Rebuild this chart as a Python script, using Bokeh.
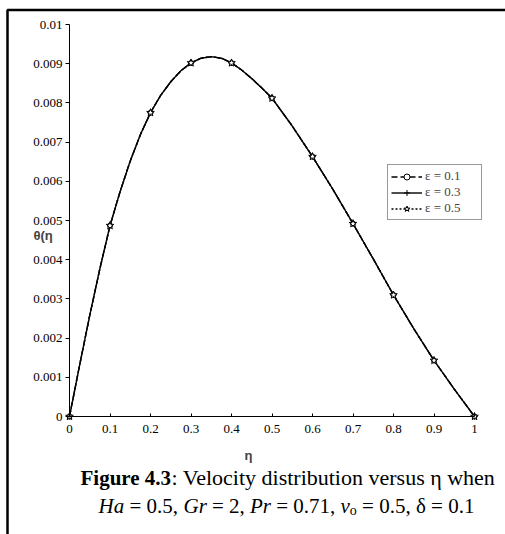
from bokeh.plotting import figure
from bokeh.models import (FixedTicker, Label, Legend, LegendItem, BoxAnnotation, Range1d,
                          LinearAxis)
from bokeh.embed import file_html
from bokeh.resources import INLINE

# ---------------- data ----------------
eta = [0.000, 0.025, 0.050, 0.075, 0.100, 0.125, 0.150, 0.175, 0.200, 0.225, 0.250,
       0.275, 0.300, 0.325, 0.350, 0.375, 0.400, 0.425, 0.450, 0.475, 0.500,
       0.550, 0.600, 0.650, 0.700, 0.750, 0.800, 0.850, 0.900, 0.950, 1.000]
theta_eps_01 = [0.0, 0.00131, 0.00258, 0.00377, 0.00487, 0.00574, 0.00652, 0.00719,
                0.00775, 0.00819, 0.00854, 0.00882, 0.00902, 0.00914, 0.00918, 0.00914,
                0.00902, 0.00884, 0.00862, 0.00838, 0.00812, 0.00741, 0.00663, 0.00580,
                0.00492, 0.00402, 0.00310, 0.00224, 0.00143, 0.00070, 0.0]
theta_eps_03 = [0.0, 0.00131, 0.00258, 0.00377, 0.00487, 0.00574, 0.00652, 0.00719,
                0.00775, 0.00819, 0.00854, 0.00882, 0.00902, 0.00914, 0.00918, 0.00914,
                0.00902, 0.00884, 0.00862, 0.00838, 0.00812, 0.00741, 0.00663, 0.00580,
                0.00492, 0.00402, 0.00310, 0.00224, 0.00143, 0.00070, 0.0]
theta_eps_05 = [0.0, 0.00131, 0.00258, 0.00377, 0.00487, 0.00574, 0.00652, 0.00719,
                0.00775, 0.00819, 0.00854, 0.00882, 0.00902, 0.00914, 0.00918, 0.00914,
                0.00902, 0.00884, 0.00862, 0.00838, 0.00812, 0.00741, 0.00663, 0.00580,
                0.00492, 0.00402, 0.00310, 0.00224, 0.00143, 0.00070, 0.0]
series_labels = ["ε = 0.1", "ε = 0.3", "ε = 0.5"]

x_tick_values = [0, 0.1, 0.2, 0.3, 0.4, 0.5, 0.6, 0.7, 0.8, 0.9, 1]
x_tick_labels = ["0", "0.1", "0.2", "0.3", "0.4", "0.5", "0.6", "0.7", "0.8", "0.9", "1"]
y_tick_values = [0, 0.001, 0.002, 0.003, 0.004, 0.005, 0.006, 0.007, 0.008, 0.009, 0.01]
y_tick_labels = ["0", "0.001", "0.002", "0.003", "0.004", "0.005", "0.006", "0.007",
                 "0.008", "0.009", "0.01"]
x_lo, x_hi = 0, 1
y_lo, y_hi = 0, 0.01

# ---------------- layout constants (canvas pixels) ----------------
W, H = 505, 534
FL, FT, FR, FB = 69, 24, 474, 416   # where the data box sits on the canvas
SERIF = "Liberation Serif"
SANS = "Liberation Sans"

xpp = (x_hi - x_lo) / (FR - FL)     # data units per pixel
ypp = (y_hi - y_lo) / (FB - FT)


def dx(X):
    return x_lo + (X - FL) * xpp


def dy(Y):
    return y_lo + (FB - Y) * ypp


p = figure(width=W, height=H, output_backend="svg", toolbar_location=None,
           x_range=Range1d(dx(0), dx(W)), y_range=Range1d(dy(H), dy(0)),
           x_axis_location=None, y_axis_location=None,
           min_border=0, min_border_left=0, min_border_right=0,
           min_border_top=0, min_border_bottom=0)
p.background_fill_color = "white"
p.border_fill_color = "white"
p.outline_line_color = None
p.xgrid.visible = False
p.ygrid.visible = False

# axes, pinned at the data origin
xaxis = LinearAxis(fixed_location=y_lo, bounds=(x_lo, x_hi),
                   ticker=FixedTicker(ticks=x_tick_values),
                   major_label_overrides=dict(zip(x_tick_values, x_tick_labels)))
yaxis = LinearAxis(fixed_location=x_lo, bounds=(y_lo, y_hi),
                   ticker=FixedTicker(ticks=y_tick_values),
                   major_label_overrides=dict(zip(y_tick_values, y_tick_labels)))
for ax in (xaxis, yaxis):
    ax.axis_line_color = "black"
    ax.axis_line_width = 1
    ax.major_tick_line_color = "black"
    ax.minor_tick_line_color = None
    ax.major_label_text_font = SERIF
    ax.major_label_text_font_size = "13px"
    ax.major_label_text_color = "black"
xaxis.major_tick_in = 3
xaxis.major_tick_out = 0
xaxis.major_label_standoff = 8
yaxis.major_tick_in = 0
yaxis.major_tick_out = 4
yaxis.major_label_standoff = 3
p.add_layout(xaxis, "below")
p.add_layout(yaxis, "left")

# outer frame of the figure (left and top edges)
p.add_layout(BoxAnnotation(left=dx(7), right=dx(W + 10), top=dy(9.5), bottom=dy(H + 10),
                           fill_alpha=0, fill_color=None,
                           line_color="black", line_alpha=1.0, line_width=2.5))

# series
mark_idx = [i for i, e in enumerate(eta) if abs(e * 10 - round(e * 10)) < 1e-9]
eta_m = [eta[i] for i in mark_idx]
l1 = p.line(eta, theta_eps_01, line_color="black", line_width=1.4, line_dash="6 3")
s1 = p.scatter(eta_m, [theta_eps_01[i] for i in mark_idx], marker="circle", size=5,
               line_color="black", fill_color="white", line_width=1)
l2 = p.line(eta, theta_eps_03, line_color="black", line_width=1.4)
s2 = p.scatter(eta_m, [theta_eps_03[i] for i in mark_idx], marker="cross", size=6,
               line_color="black", line_width=1)
l3 = p.line(eta, theta_eps_05, line_color="black", line_width=1.4, line_dash="2 2")
s3 = p.scatter(eta_m, [theta_eps_05[i] for i in mark_idx], marker="star", size=8,
               line_color="black", fill_color="white", line_width=1)

legend = Legend(items=[LegendItem(label=series_labels[0], renderers=[l1, s1]),
                       LegendItem(label=series_labels[1], renderers=[l2, s2]),
                       LegendItem(label=series_labels[2], renderers=[l3, s3])],
                location=(387, 314))
legend.label_text_font = SERIF
legend.label_text_font_size = "13px"
legend.glyph_width = 31
legend.glyph_height = 15
legend.label_height = 15
legend.label_width = 53
legend.label_standoff = 3
legend.spacing = 0
legend.padding = 3
legend.margin = 0
legend.border_line_color = "#333333"
legend.border_line_width = 1
legend.background_fill_color = "white"
legend.background_fill_alpha = 1
p.add_layout(legend)

# axis titles
p.add_layout(Label(x=dx(33), y=dy(235), text="θ(η",
                   text_font=SANS, text_font_size="13px", text_font_style="bold",
                   text_baseline="middle", text_align="left"))
p.add_layout(Label(x=dx(248), y=dy(455), text="η",
                   text_font=SANS, text_font_size="13px", text_font_style="bold",
                   text_baseline="middle", text_align="center"))

# caption
cap = [
    ("Figure 4.3", 80, 477, "bold", "21px"),
    (": Velocity distribution versus η when", 171, 477, "normal", "22px"),
    ("Ha", 98, 505, "italic", "21px"),
    ("= 0.5,", 129, 505, "normal", "21px"),
    ("Gr", 183, 505, "italic", "21px"),
    ("= 2,", 211.4, 505, "normal", "21px"),
    ("Pr", 249.4, 505, "italic", "21px"),
    ("= 0.71,", 275.7, 505, "normal", "21px"),
    ("v", 340, 505, "italic", "21px"),
    ("o", 349.3, 510, "normal", "14px"),
    ("= 0.5, δ = 0.1", 361.6, 505, "normal", "21px"),
]
for t, X, Y, st, fs in cap:
    p.add_layout(Label(x=dx(X), y=dy(Y), text=t,
                       text_font=SERIF, text_font_size=fs, text_font_style=st,
                       text_baseline="middle", text_align="left", text_color="black"))

open("out.html", "w").write(file_html(p, INLINE))
